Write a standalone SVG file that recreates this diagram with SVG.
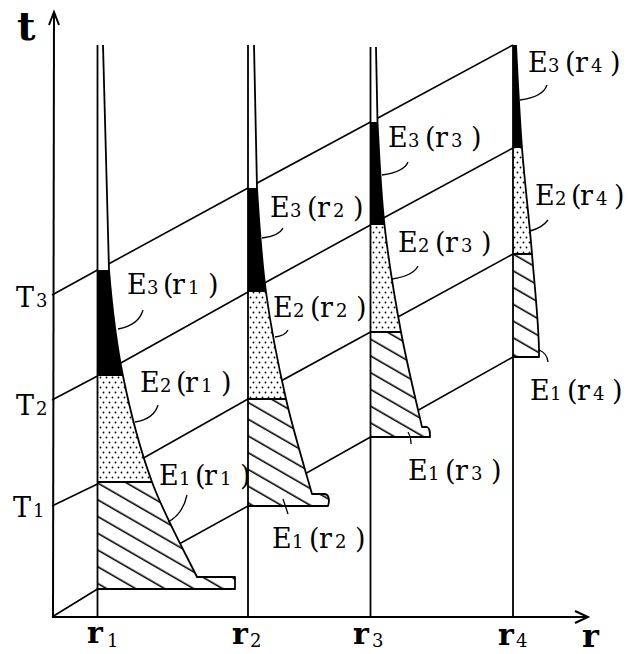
<svg xmlns="http://www.w3.org/2000/svg" width="628" height="654" viewBox="0 0 628 654">
<defs>
<pattern id="hatch" patternUnits="userSpaceOnUse" width="20" height="14.5" patternTransform="rotate(30)">
<line x1="0" y1="7" x2="20" y2="7" stroke="#000" stroke-width="1.6"/>
</pattern>
<pattern id="dots" patternUnits="userSpaceOnUse" width="6" height="10">
<rect width="6" height="10" fill="#fff"/>
<circle cx="1.5" cy="2.5" r="0.9" fill="#000"/>
<circle cx="4.5" cy="7.5" r="0.9" fill="#000"/>
</pattern>
</defs>
<style>
.ax{stroke:#000;stroke-width:2;fill:none}
.ln{stroke:#000;stroke-width:1.6;fill:none}
.ol{stroke:#000;stroke-width:1.8;fill:none;stroke-linejoin:round}
.ld{stroke:#000;stroke-width:1.3;fill:none}
.wh{fill:#fff;stroke:none}
.e3{fill:#000;stroke:none}
.e2{fill:url(#dots);stroke:none}
.e1{fill:url(#hatch);stroke:none}
.lb{font-family:"DejaVu Serif","Liberation Serif",serif;font-size:27px;fill:#000}
.sb{font-size:18px}
.ar{font-family:"DejaVu Serif","Liberation Serif",serif;font-weight:bold;fill:#000}
</style>
<rect width="628" height="654" fill="#fff"/>

<g id="axes">
<path class="ax" d="M53,617 L54,12"/>
<path class="ax" d="M49,25 L54,12 L59,25"/>
<path class="ax" d="M52,617 L588,617"/>
<path class="ax" d="M575,611 L588,617 L575,623"/>
<text class="ar" x="17" y="40" font-size="40">t</text>
<text class="ar" x="582" y="647" font-size="32">r</text>
<text class="lb" y="307"><tspan x="16">T</tspan><tspan x="36" class="sb">3</tspan></text>
<text class="lb" y="415"><tspan x="16">T</tspan><tspan x="36" class="sb">2</tspan></text>
<text class="lb" y="517"><tspan x="13">T</tspan><tspan x="33" class="sb">1</tspan></text>
<text class="ar" font-size="30" x="87" y="643">r</text><text class="lb sb" x="107" y="647">1</text>
<text class="ar" font-size="30" x="232" y="644">r</text><text class="lb sb" x="250" y="647">2</text>
<text class="ar" font-size="30" x="353" y="644">r</text><text class="lb sb" x="372" y="647">3</text>
<text class="ar" font-size="30" x="498" y="645">r</text><text class="lb sb" x="516" y="647">4</text>
</g>

<g id="connectors">
<path class="ln" d="M52,617 L97.5,589 L248,506 L370.5,437 L513,357"/>
<path class="ln" d="M52,506 L97.5,484 L248,399 L370.5,332 L513,254"/>
<path class="ln" d="M52,400 L97.5,376 L248,292 L370.5,225 L513,148"/>
<path class="ln" d="M52,295 L97.5,270 L248,188 L370.5,122 L513,45"/>
</g>

<g id="col-r1">
<path class="wh" d="M97.5,45 L103,45 L109,270 C111.8,304.3 115.8,340.7 123,376 C130.2,411.3 139.7,448.5 152,482 C164.3,515.5 189.5,561.2 197,577 L235,577 L235,589 L97.5,589 Z"/>
<path class="e3" d="M97.5,270 L109,270 C111.8,304.3 115.8,340.7 123,376 L97.5,376 Z"/>
<path class="e2" d="M97.5,376 L123,376 C130.2,411.3 139.7,448.5 152,482 L97.5,482 Z"/>
<path class="e1" d="M97.5,482 L152,482 C164.3,515.5 189.5,561.2 197,577 L235,577 L235,589 L97.5,589 Z"/>
<path class="ol" d="M103,45 L109,270 C111.8,304.3 115.8,340.7 123,376 C130.2,411.3 139.7,448.5 152,482 C164.3,515.5 189.5,561.2 197,577 L235,577 L235,589 L97.5,589"/>
<path class="ol" d="M97.5,45 L97.5,617 M97.5,482 L152,482"/>
<path class="ld" d="M143,310 Q139,325 118,329"/>
<path class="ld" d="M158,405 Q154,419 135,422"/>
<path class="ld" d="M187,495 Q183,514 168,522"/>
<text class="lb" y="294"><tspan x="127">E</tspan><tspan x="147" class="sb">3</tspan><tspan x="163">(</tspan><tspan x="172">r</tspan><tspan x="188" class="sb">1</tspan><tspan x="208">)</tspan></text>
<text class="lb" y="392"><tspan x="140">E</tspan><tspan x="160" class="sb">2</tspan><tspan x="176">(</tspan><tspan x="185">r</tspan><tspan x="201" class="sb">1</tspan><tspan x="221">)</tspan></text>
<text class="lb" y="485"><tspan x="159">E</tspan><tspan x="179" class="sb">1</tspan><tspan x="195">(</tspan><tspan x="204">r</tspan><tspan x="220" class="sb">1</tspan><tspan x="240">)</tspan></text>
</g>

<g id="col-r2">
<path class="wh" d="M248,45 L254,45 L257,188 C258.75,216.7 261.2,256.8 266,292 C270.8,327.2 278.3,365.3 286,399 C293.7,432.7 307.7,478.2 312,494 L324,494 C329,494 330,500 328,506 L248,506 Z"/>
<path class="e3" d="M248,188 L257,188 C258.75,216.7 261.2,256.8 266,292 L248,292 Z"/>
<path class="e2" d="M248,292 L266,292 C270.8,327.2 278.3,365.3 286,399 L248,399 Z"/>
<path class="e1" d="M248,399 L286,399 C293.7,432.7 307.7,478.2 312,494 L324,494 C329,494 330,500 328,506 L248,506 Z"/>
<path class="ol" d="M254,45 L257,188 C258.75,216.7 261.2,256.8 266,292 C270.8,327.2 278.3,365.3 286,399 C293.7,432.7 307.7,478.2 312,494 L324,494 C329,494 330,500 328,506 L248,506"/>
<path class="ol" d="M248,45 L248,617 M248,399 L286,399"/>
<path class="ld" d="M283,228 Q279,236 262,238"/>
<path class="ld" d="M288,330 Q285,336 275,337"/>
<path class="ld" d="M283,499 Q286,508 288,514"/>
<text class="lb" y="217"><tspan x="270">E</tspan><tspan x="290" class="sb">3</tspan><tspan x="307">(</tspan><tspan x="317">r</tspan><tspan x="333" class="sb">2</tspan><tspan x="353">)</tspan></text>
<text class="lb" y="317"><tspan x="273">E</tspan><tspan x="293" class="sb">2</tspan><tspan x="310">(</tspan><tspan x="320">r</tspan><tspan x="336" class="sb">2</tspan><tspan x="356">)</tspan></text>
<text class="lb" y="548"><tspan x="272">E</tspan><tspan x="292" class="sb">1</tspan><tspan x="309">(</tspan><tspan x="319">r</tspan><tspan x="335" class="sb">2</tspan><tspan x="355">)</tspan></text>
</g>

<g id="col-r3">
<path class="wh" d="M370.5,47 L376,47 L377.5,122 C378.8,146.2 380.6,190 384.5,225 C388.4,260 394.75,298.3 401,332 C407.25,365.7 418.5,411.2 422,427 L427,427 C430,428 430,432 430,437 L370.5,437 Z"/>
<path class="e3" d="M370.5,122 L377.5,122 C378.8,146.2 380.6,190 384.5,225 L370.5,225 Z"/>
<path class="e2" d="M370.5,225 L384.5,225 C388.4,260 394.75,298.3 401,332 L370.5,332 Z"/>
<path class="e1" d="M370.5,332 L401,332 C407.25,365.7 418.5,411.2 422,427 L427,427 C430,428 430,432 430,437 L370.5,437 Z"/>
<path class="ol" d="M376,47 L377.5,122 C378.8,146.2 380.6,190 384.5,225 C388.4,260 394.75,298.3 401,332 C407.25,365.7 418.5,411.2 422,427 L427,427 C430,428 430,432 430,437 L370.5,437"/>
<path class="ol" d="M370.5,47 L370.5,617 M370.5,332 L401,332"/>
<path class="ld" d="M408,162 Q404,172 382,175"/>
<path class="ld" d="M418,266 Q413,276 392,279"/>
<path class="ld" d="M408,432 Q411,437 411,444"/>
<text class="lb" y="147"><tspan x="388">E</tspan><tspan x="408" class="sb">3</tspan><tspan x="425">(</tspan><tspan x="435">r</tspan><tspan x="451" class="sb">3</tspan><tspan x="471">)</tspan></text>
<text class="lb" y="252"><tspan x="398">E</tspan><tspan x="418" class="sb">2</tspan><tspan x="435">(</tspan><tspan x="445">r</tspan><tspan x="461" class="sb">3</tspan><tspan x="481">)</tspan></text>
<text class="lb" y="480"><tspan x="408">E</tspan><tspan x="428" class="sb">1</tspan><tspan x="445">(</tspan><tspan x="455">r</tspan><tspan x="471" class="sb">3</tspan><tspan x="491">)</tspan></text>
</g>

<g id="col-r4">
<path class="wh" d="M513,45 L516,45 C517.3,69.7 519.3,113.2 522,148 C524.7,182.8 529.2,219.2 532,254 C534.8,288.8 539.5,330 539,357 L513,357 Z"/>
<path class="e3" d="M513,45 L516,45 C517.3,69.7 519.3,113.2 522,148 L513,148 Z"/>
<path class="e2" d="M513,148 L522,148 C524.7,182.8 529.2,219.2 532,254 L513,254 Z"/>
<path class="e1" d="M513,254 L532,254 C534.8,288.8 539.5,330 539,357 L513,357 Z"/>
<path class="ol" d="M516,45 C517.3,69.7 519.3,113.2 522,148 C524.7,182.8 529.2,219.2 532,254 C534.8,288.8 539.5,330 539,357 L513,357"/>
<path class="ol" d="M513,45 L513,617 M513,254 L532,254"/>
<path class="ld" d="M547,85 Q543,97 520,100"/>
<path class="ld" d="M548,220 Q542,228 530,231"/>
<path class="ld" d="M539,350 Q547,353 548,362"/>
<text class="lb" y="72"><tspan x="528">E</tspan><tspan x="548" class="sb">3</tspan><tspan x="565">(</tspan><tspan x="575">r</tspan><tspan x="591" class="sb">4</tspan><tspan x="610">)</tspan></text>
<text class="lb" y="205"><tspan x="535">E</tspan><tspan x="555" class="sb">2</tspan><tspan x="571">(</tspan><tspan x="580">r</tspan><tspan x="596" class="sb">4</tspan><tspan x="614">)</tspan></text>
<text class="lb" y="400"><tspan x="530">E</tspan><tspan x="550" class="sb">1</tspan><tspan x="567">(</tspan><tspan x="577">r</tspan><tspan x="593" class="sb">4</tspan><tspan x="612">)</tspan></text>
</g>
</svg>
